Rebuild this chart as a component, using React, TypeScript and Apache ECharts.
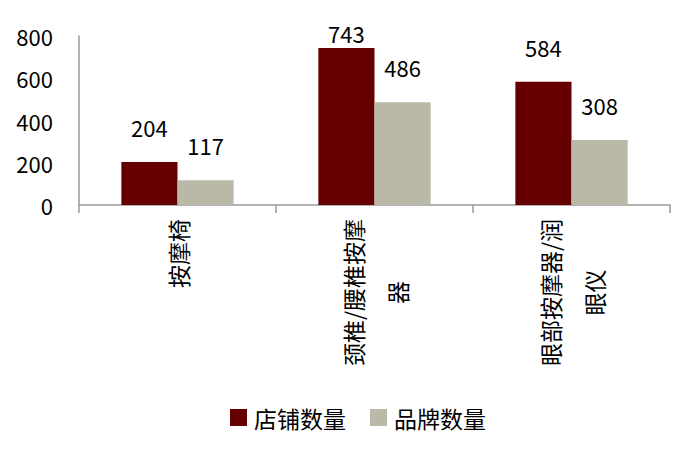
import React, { useEffect, useRef } from "react";
import * as echarts from "echarts";

const categories = ["按摩椅", "颈椎/腰椎按摩器", "眼部按摩器/润眼仪"];
const storeCounts = [204, 743, 584];
const brandCounts = [117, 486, 308];
const seriesNames = ["店铺数量", "品牌数量"];
const yTicks = { min: 0, max: 800, interval: 200 };

const FONT = "'Noto Sans CJK SC', 'Noto Sans', sans-serif";

export default function App() {
  const ref = useRef<HTMLDivElement>(null);
  useEffect(() => {
    if (!ref.current) return;
    const chart = echarts.init(ref.current, null, { renderer: "svg" });
    const labelStyle = {
      show: true,
      position: "top",
      distance: 24,
      fontSize: 22,
      color: "#000",
      fontFamily: FONT,
    };
    chart.setOption({
      animation: false,
      textStyle: { fontFamily: FONT },
      grid: { left: 79, right: 26, top: 36, bottom: 253 },
      legend: {
        data: seriesNames,
        left: 225,
        top: 401,
        itemWidth: 17,
        itemHeight: 17,
        itemGap: 24,
        icon: "rect",
        textStyle: { fontSize: 23, color: "#000", fontFamily: FONT, padding: [0, 0, 0, 2] },
      },
      xAxis: {
        type: "category",
        data: categories,
        axisLine: { lineStyle: { color: "#999", width: 1.5 } },
        axisTick: { show: true, alignWithLabel: false, length: 8, lineStyle: { color: "#999", width: 1.5 } },
        axisLabel: {
          interval: 0,
          rotate: 90,
          margin: 14,
          formatter: (v: string) => {
            const lines: string[] = [];
            for (let i = 0; i < v.length; i += 7) lines.push(v.slice(i, i + 7));
            return lines.map((l) => `{c|${l}}`).join("\n");
          },
          rich: {
            c: { align: "center", fontSize: 23, lineHeight: 44, color: "#000", fontFamily: FONT },
          },
        },
      },
      yAxis: {
        type: "value",
        min: yTicks.min,
        max: yTicks.max,
        interval: yTicks.interval,
        splitLine: { show: false },
        axisLine: { show: true, lineStyle: { color: "#999", width: 1.5 } },
        axisTick: { show: false },
        axisLabel: { fontSize: 22, color: "#000", margin: 26, fontFamily: FONT },
      },
      series: [
        {
          name: seriesNames[0],
          type: "bar",
          barGap: "0%",
          barCategoryGap: "43%",
          itemStyle: { color: "#660000" },
          label: labelStyle,
          data: storeCounts.map((v) =>
            v === Math.max(...storeCounts) ? { value: v, label: { distance: 4 } } : v
          ),
        },
        {
          name: seriesNames[1],
          type: "bar",
          barGap: "0%",
          barCategoryGap: "43%",
          itemStyle: { color: "#BAB8A7" },
          label: labelStyle,
          data: brandCounts,
        },
      ],
    });
    return () => chart.dispose();
  }, []);
  return (
    <div
      ref={ref}
      style={{ position: "fixed", left: 0, top: 0, width: 696, height: 458, background: "#fff" }}
    />
  );
}
